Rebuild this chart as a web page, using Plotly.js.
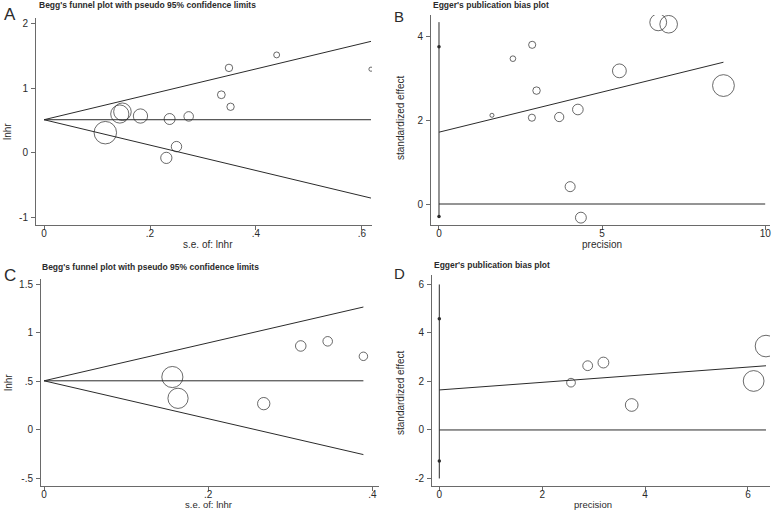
<!DOCTYPE html>
<html>
<head>
<meta charset="utf-8">
<script src="https://cdn.plot.ly/plotly-3.0.1.min.js"></script>
<style>
  html, body { margin: 0; padding: 0; background: #fff; }
  #chart { width: 777px; height: 510px; }
</style>
</head>
<body>
<div id="chart"></div>
<script>
// ---------------------------------------------------------------------------
// Values (A/B: 13 studies, C/D: 6 studies).
// ---------------------------------------------------------------------------

// A: Begg's funnel plot
const seA = [0.1157, 0.143, 0.148, 0.182, 0.237, 0.273, 0.2308, 0.250, 0.3346, 0.352, 0.349, 0.439, 0.617];
const lnhrA = [0.312, 0.60, 0.635, 0.569, 0.523, 0.563, -0.077, 0.097, 0.897, 0.712, 1.312, 1.512, 1.292];
const thetaA = 0.512;

// B: Egger's plot
const precB = [1.623, 2.266, 2.857, 2.848, 2.99, 3.685, 4.257, 4.02, 4.35, 5.53, 6.72, 7.04, 8.72];
const zB = [2.112, 3.46, 3.79, 2.055, 2.70, 2.071, 2.25, 0.413, -0.325, 3.17, 4.325, 4.28, 2.82];
const eggerB = { intercept: 1.71, slope: 0.191 };
const ciB = [3.745, -0.30];
const spikeB = [4.33, -0.31];
const zeroLineB = [0, 10];

// C: Begg's funnel plot
const seC = [0.1563, 0.1632, 0.2676, 0.3127, 0.3455, 0.389];
const lnhrC = [0.544, 0.324, 0.269, 0.865, 0.913, 0.758];
const thetaC = 0.505;

// D: Egger's plot
const precD = [2.56, 2.884, 3.19, 3.74, 6.11, 6.35];
const zD = [1.95, 2.65, 2.78, 1.03, 2.02, 3.46];
const eggerD = { intercept: 1.65, slope: 0.157 };
const ciD = [4.59, -1.28];
const spikeD = [6, -2];
const zeroLineD = [0, 6.35];

// Tick labels in Stata's style (leading dot, no zero)
const ticksA = { x: [0, 0.2, 0.4, 0.6], xt: ['0', '.2', '.4', '.6'], y: [-1, 0, 1, 2], yt: ['-1', '0', '1', '2'] };
const ticksB = { x: [0, 5, 10], xt: ['0', '5', '10'], y: [0, 2, 4], yt: ['0', '2', '4'] };
const ticksC = { x: [0, 0.2, 0.4], xt: ['0', '.2', '.4'], y: [-0.5, 0, 0.5, 1, 1.5], yt: ['-.5', '0', '.5', '1', '1.5'] };
const ticksD = { x: [0, 2, 4, 6], xt: ['0', '2', '4', '6'], y: [-2, 0, 2, 4, 6], yt: ['-2', '0', '2', '4', '6'] };

// ---------------------------------------------------------------------------
// Layout helpers — the page is laid out in pixels, Plotly wants paper fractions
// ---------------------------------------------------------------------------
const W = 777, H = 510;
const FONT = 'Liberation Sans, Arial, Helvetica, sans-serif';
const INK = '#2b2b2b';
const AXIS = '#6a6a6a';

const fx = (px) => px / W;
const fy = (py) => 1 - py / H;

function axis(domainPx, range, ticks, isY, anchor) {
  return {
    domain: isY ? [fy(domainPx[1]), fy(domainPx[0])] : [fx(domainPx[0]), fx(domainPx[1])],
    range,
    anchor,
    showline: true,
    linecolor: AXIS,
    linewidth: 1,
    showgrid: false,
    zeroline: false,
    ticks: 'outside',
    ticklen: 4,
    tickwidth: 1,
    tickcolor: AXIS,
    tickmode: 'array',
    tickvals: isY ? ticks.y : ticks.x,
    ticktext: isY ? ticks.yt : ticks.xt,
    tickfont: { family: FONT, size: 10, color: INK },
    // pull the x labels up tight under the ticks, as Stata does
    ticklabelstandoff: isY ? 1 : -5,
    fixedrange: true,
  };
}

const maxOf = (arr) => Math.max(...arr);

function beggTraces(se, lnhr, theta, k, xa, ya) {
  const seMax = maxOf(se);
  const line = { color: INK, width: 1 };
  return [
    { x: [0, seMax], y: [theta, theta + 1.96 * seMax], mode: 'lines', line, xaxis: xa, yaxis: ya },
    { x: [0, seMax], y: [theta, theta - 1.96 * seMax], mode: 'lines', line, xaxis: xa, yaxis: ya },
    { x: [0, seMax], y: [theta, theta], mode: 'lines', line, xaxis: xa, yaxis: ya },
    {
      x: se, y: lnhr, mode: 'markers', xaxis: xa, yaxis: ya,
      marker: { symbol: 'circle-open', size: se.map((s) => k / s), color: INK, line: { width: 1 } },
    },
  ];
}

function eggerTraces(prec, z, fit, ci, spike, zeroLine, k, xa, ya) {
  const pMax = maxOf(prec);
  const line = { color: INK, width: 1 };
  return [
    { x: zeroLine, y: [0, 0], mode: 'lines', line, xaxis: xa, yaxis: ya },
    { x: [0, 0], y: spike, mode: 'lines', line, xaxis: xa, yaxis: ya },
    { x: [0, 0], y: ci, mode: 'markers', marker: { size: 3.5, color: INK }, xaxis: xa, yaxis: ya },
    {
      x: [0, pMax], y: [fit.intercept, fit.intercept + fit.slope * pMax],
      mode: 'lines', line, xaxis: xa, yaxis: ya,
    },
    {
      x: prec, y: z, mode: 'markers', xaxis: xa, yaxis: ya,
      marker: { symbol: 'circle-open', size: prec.map((p) => k * p), color: INK, line: { width: 1 } },
    },
  ];
}

const data = [
  ...beggTraces(seA, lnhrA, thetaA, 2.6, 'x', 'y'),
  ...eggerTraces(precB, zB, eggerB, ciB, spikeB, zeroLineB, 2.5, 'x2', 'y2'),
  ...beggTraces(seC, lnhrC, thetaC, 3.3, 'x3', 'y3'),
  ...eggerTraces(precD, zD, eggerD, ciD, spikeD, zeroLineD, 3.4, 'x4', 'y4'),
];

function text(str, px, py, opts = {}) {
  return {
    text: str,
    xref: 'paper', yref: 'paper',
    x: fx(px), y: fy(py),
    xanchor: opts.xanchor || 'center',
    yanchor: opts.yanchor || 'middle',
    textangle: opts.angle || 0,
    showarrow: false,
    font: { family: FONT, size: opts.size || 10, color: INK, weight: opts.weight || 'normal' },
  };
}

const annotations = [
  // panel letters
  text('A', 2, 14, { xanchor: 'left', size: 17 }),
  text('B', 392, 16, { xanchor: 'left', size: 15 }),
  text('C', 2, 275, { xanchor: 'left', size: 17 }),
  text('D', 392, 273, { xanchor: 'left', size: 15 }),
  // panel titles
  text("Begg's funnel plot with pseudo 95% confidence limits", 37, 5, { xanchor: 'left', size: 8.5, weight: 'bold' }),
  text("Egger's publication bias plot", 431, 5, { xanchor: 'left', size: 8.5, weight: 'bold' }),
  text("Begg's funnel plot with pseudo 95% confidence limits", 40, 267, { xanchor: 'left', size: 8.5, weight: 'bold' }),
  text("Egger's publication bias plot", 432, 265, { xanchor: 'left', size: 8.5, weight: 'bold' }),
  // axis titles
  text('lnhr', 8, 132, { angle: -90 }),
  text('s.e. of: lnhr', 208, 244),
  text('standardized effect', 400, 118, { angle: -90 }),
  text('precision', 602, 244),
  text('lnhr', 8, 383, { angle: -90 }),
  text('s.e. of: lnhr', 208, 504.5, { size: 9.5 }),
  text('standardized effect', 400, 393, { angle: -90 }),
  text('precision', 593, 504.5, { size: 9.5 }),
];

const layout = {
  width: W,
  height: H,
  margin: { l: 0, r: 0, t: 0, b: 0 },
  paper_bgcolor: '#fff',
  plot_bgcolor: '#fff',
  showlegend: false,
  font: { family: FONT, color: INK },
  xaxis: axis([36, 372], [-0.0151, 0.6189], ticksA, false, 'y'),
  yaxis: axis([18, 225], [-1.113, 2.082], ticksA, true, 'x'),
  xaxis2: axis([431, 770], [-0.245, 10.147], ticksB, false, 'y2'),
  yaxis2: axis([15, 224.5], [-0.488, 4.5], ticksB, true, 'x2'),
  xaxis3: axis([41, 379], [-0.0037, 0.408], ticksC, false, 'y3'),
  yaxis3: axis([279, 485.7], [-0.579, 1.557], ticksC, true, 'x3'),
  xaxis4: axis([432, 770], [-0.142, 6.428], ticksD, false, 'y4'),
  yaxis4: axis([275, 485.5], [-2.29, 6.39], ticksD, true, 'x4'),
  annotations,
};

Plotly.newPlot('chart', data, layout, { staticPlot: true, displayModeBar: false });
</script>
</body>
</html>
